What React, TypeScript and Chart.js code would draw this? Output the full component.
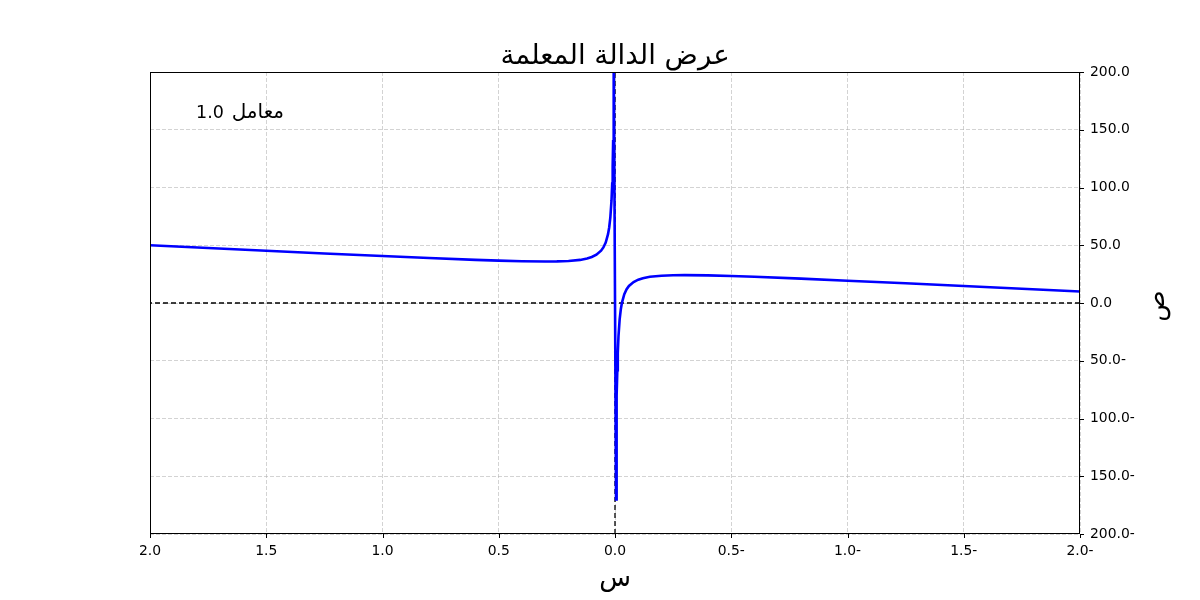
import { useEffect, useRef } from "react";
import { Chart, registerables } from "chart.js";

Chart.register(...registerables);

// Curve samples (x, y)
const xValues = [
  2.0, 1.75, 1.5, 1.25, 1.0, 0.8, 0.6, 0.5, 0.4, 0.3, 0.25, 0.2, 0.15, 0.12, 0.1,
  0.08, 0.06, 0.05, 0.04, 0.03, 0.025, 0.02, 0.015, 0.012, 0.01, 0.008, 0.007, 0.006, 0.005, 0.0045,
  -0.0045, -0.006, -0.008, -0.01, -0.012, -0.015, -0.02, -0.025, -0.03, -0.04, -0.05,
  -0.06, -0.08, -0.1, -0.12, -0.15, -0.2, -0.25, -0.3, -0.4, -0.5, -0.6, -0.8, -1.0,
  -1.25, -1.5, -1.75, -2.0,
];
const yValues = [
  50.0, 47.6, 45.3, 42.9, 40.7, 38.9, 37.3, 36.7, 36.1, 35.9, 36.0, 36.4, 37.3, 38.5, 39.8,
  41.8, 45.3, 48.1, 52.4, 59.6, 65.4, 74.2, 88.8, 103.4, 118.1, 140.1, 155.8, 176.7, 206.0, 226.0,
  -170.0, -116.7, -80.1, -58.1, -43.4, -28.8, -14.2, -5.4, 0.4, 7.6, 11.9,
  14.8, 18.2, 20.2, 21.5, 22.7, 23.6, 24.0, 24.1, 23.9, 23.4, 22.7, 21.1, 19.3,
  17.1, 14.7, 12.4, 10.0,
];

const xTicks = [2.0, 1.5, 1.0, 0.5, 0.0, -0.5, -1.0, -1.5, -2.0];
const yTicks = [200, 150, 100, 50, 0, -50, -100, -150, -200];
const xRange = [-2, 2];
const yRange = [-200, 200];

const titleText = "عرض الدالة المعلمة";
const xLabelText = "س";
const yLabelText = "ص";
const noteWord = "معامل";
const noteValue = "1.0";

const FONT = "'DejaVu Sans', sans-serif";

function fmt(v: number): string {
  const s = Math.abs(v).toFixed(1);
  return v < -1e-9 ? s + "-" : s;
}

const decorPlugin = {
  id: "decor",
  afterDraw(chart: any) {
    const { ctx, chartArea } = chart;
    const { left, right, top, bottom } = chartArea;
    const xs = chart.scales.x;
    const ys = chart.scales.y;
    ctx.save();
    // frame
    ctx.strokeStyle = "#000";
    ctx.lineWidth = 1;
    ctx.setLineDash([]);
    ctx.strokeRect(left + 0.5, top + 0.5, right - left - 1, bottom - top - 1);
    // tick marks
    ctx.beginPath();
    xTicks.forEach((t) => {
      const px = Math.round(xs.getPixelForValue(t)) + 0.5;
      ctx.moveTo(px, bottom);
      ctx.lineTo(px, bottom + 4);
    });
    yTicks.forEach((t) => {
      const py = Math.round(ys.getPixelForValue(t)) + 0.5;
      ctx.moveTo(right, py);
      ctx.lineTo(right + 4, py);
    });
    ctx.stroke();
    // title
    ctx.fillStyle = "#000";
    ctx.textAlign = "center";
    ctx.textBaseline = "alphabetic";
    ctx.font = `27.6px ${FONT}`;
    ctx.fillText(titleText, (left + right) / 2, 64);
    // note
    ctx.font = `17.5px ${FONT}`;
    ctx.textAlign = "left";
    ctx.fillText(noteValue, left + 46, 118);
    ctx.font = `20px ${FONT}`;
    ctx.textAlign = "right";
    ctx.fillText(noteWord, left + 134, 118);
    // x label
    ctx.font = `26px ${FONT}`;
    ctx.textAlign = "center";
    ctx.fillText(xLabelText, (left + right) / 2, 586);
    // y label
    ctx.translate(1157, (top + bottom) / 2 + 3);
    ctx.rotate(-Math.PI / 2);
    ctx.textBaseline = "middle";
    ctx.fillText(yLabelText, 0, 0);
    ctx.restore();
  },
};

export default function App() {
  const ref = useRef<HTMLCanvasElement | null>(null);
  useEffect(() => {
    document.body.style.margin = "0";
    const canvas = ref.current;
    if (!canvas) return;
    const curve = xValues.map((x, i) => ({ x, y: yValues[i] }));
    const hLine = xRange.map((x) => ({ x, y: 0 }));
    const vLine = yRange.map((y) => ({ x: 0, y }));
    const chart = new Chart(canvas, {
      type: "line",
      data: {
        datasets: [
          {
            data: curve,
            borderColor: "#0000ff",
            borderWidth: 2.6,
            pointRadius: 0,
            tension: 0,
            fill: false,
          },
          {
            data: hLine,
            borderColor: "#000",
            borderWidth: 1.3,
            borderDash: [5, 3],
            pointRadius: 0,
            fill: false,
          },
          {
            data: vLine,
            borderColor: "#000",
            borderWidth: 1.3,
            borderDash: [5, 3],
            pointRadius: 0,
            fill: false,
          },
        ],
      },
      options: {
        responsive: false,
        animation: false,
        layout: { padding: { left: 150, top: 72, right: 0, bottom: 0 } },
        plugins: {
          legend: { display: false },
          title: { display: false },
          tooltip: { enabled: false },
        },
        scales: {
          x: {
            type: "linear",
            position: "bottom",
            min: xRange[0],
            max: xRange[1],
            reverse: true,
            afterBuildTicks: (s: any) => {
              s.ticks = xTicks.map((v) => ({ value: v }));
            },
            afterFit: (s: any) => {
              s.height = 66;
            },
            ticks: {
              callback: (v: any) => fmt(Number(v)),
              color: "#000",
              font: { family: FONT, size: 13.9 },
              padding: 9,
              maxRotation: 0,
              autoSkip: false,
            },
            grid: {
              color: "rgba(176,176,176,0.7)",
              lineWidth: 0.8,
              drawTicks: false,
            },
            border: { display: false, dash: [4, 2] },
          },
          y: {
            type: "linear",
            position: "right",
            min: yRange[0],
            max: yRange[1],
            afterBuildTicks: (s: any) => {
              s.ticks = yTicks.map((v) => ({ value: v }));
            },
            afterFit: (s: any) => {
              s.width = 120;
            },
            ticks: {
              callback: (v: any) => fmt(Number(v)),
              color: "#000",
              font: { family: FONT, size: 13.9 },
              padding: 10,
              autoSkip: false,
            },
            grid: {
              color: "rgba(176,176,176,0.7)",
              lineWidth: 0.8,
              drawTicks: false,
            },
            border: { display: false, dash: [4, 2] },
          },
        },
      },
      plugins: [decorPlugin],
    } as any);
    return () => chart.destroy();
  }, []);
  return (
    <canvas
      ref={ref}
      width={1200}
      height={600}
      style={{ display: "block", width: 1200, height: 600 }}
    />
  );
}
